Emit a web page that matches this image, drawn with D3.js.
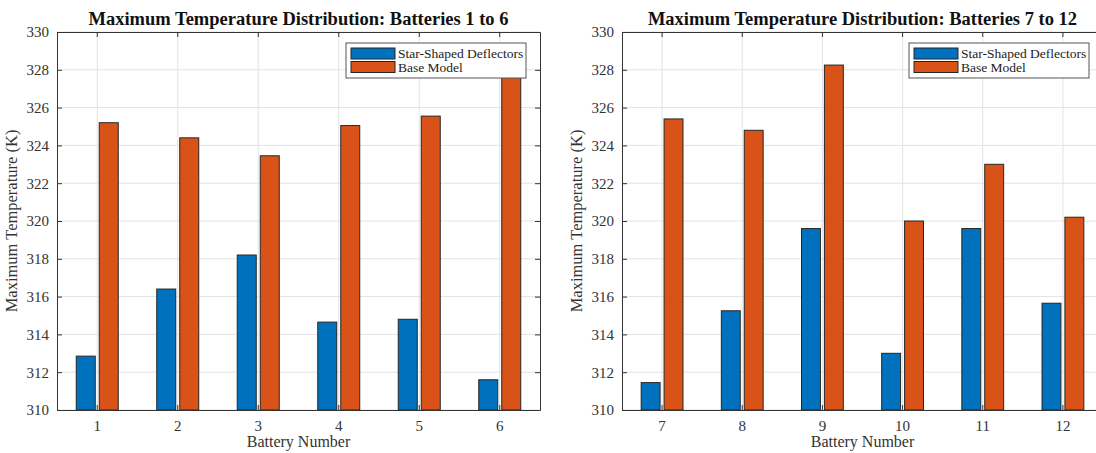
<!DOCTYPE html>
<html>
<head>
<meta charset="utf-8">
<script src="https://cdn.jsdelivr.net/npm/d3@7"></script>
<style>
  body { margin: 0; background: #fff; }
  svg { display: block; font-family: "Liberation Serif", "DejaVu Serif", serif; }
  .grid line { stroke: #e3e3e3; stroke-width: 1; }
  .axis path, .axis line { stroke: #333; }
  .axis text { fill: #333; font-size: 15px; font-family: "Liberation Serif", serif; }
</style>
</head>
<body>
<svg id="chart" width="1096" height="453"></svg>
<script>
var series = ["Star-Shaped Deflectors", "Base Model"];
var colors = ["#0072BD", "#D95319"];

var batteriesA = ["1", "2", "3", "4", "5", "6"];
var starA = [312.85, 316.4, 318.2, 314.65, 314.8, 311.6];
var baseA = [325.2, 324.4, 323.45, 325.05, 325.55, 329.0];

var batteriesB = ["7", "8", "9", "10", "11", "12"];
var starB = [311.45, 315.25, 319.6, 313.0, 319.6, 315.65];
var baseB = [325.4, 324.8, 328.25, 320.0, 323.0, 320.2];

var yTicks = [310, 312, 314, 316, 318, 320, 322, 324, 326, 328, 330];

var svg = d3.select("#chart");

function panel(x0, x1, cats, star, base, title) {
  var top = 32, bottom = 410;
  var g = svg.append("g");

  var x = d3.scaleBand().domain(cats).range([x0, x1]).padding(0);
  var xs = d3.scaleBand().domain(series).range([0, x.bandwidth()])
      .paddingInner(0.174).paddingOuter(0.837);
  var y = d3.scaleLinear().domain([310, 330]).range([bottom, top]);

  var clipId = "clip" + cats[0];
  g.append("clipPath").attr("id", clipId)
    .append("rect").attr("x", x0).attr("y", top).attr("width", x1 - x0).attr("height", bottom - top);

  // grid
  var grid = g.append("g").attr("class", "grid");
  grid.selectAll(".h").data(yTicks).enter().append("line")
    .attr("x1", x0).attr("x2", x1)
    .attr("y1", d => y(d)).attr("y2", d => y(d));
  grid.selectAll(".v").data(cats).enter().append("line")
    .attr("x1", d => x(d) + x.bandwidth() / 2).attr("x2", d => x(d) + x.bandwidth() / 2)
    .attr("y1", top).attr("y2", bottom);

  var rows = cats.map((c, i) => ({cat: c, vals: [star[i], base[i]]}));

  g.append("g").attr("clip-path", "url(#" + clipId + ")")
    .selectAll("g").data(rows).enter().append("g")
    .attr("transform", d => `translate(${x(d.cat)},0)`)
    .selectAll("rect").data(d => d.vals.map((v, j) => ({s: series[j], v: v, j: j})))
    .enter().append("rect")
    .attr("x", d => xs(d.s))
    .attr("y", d => y(d.v))
    .attr("width", xs.bandwidth())
    .attr("height", d => y(310) - y(d.v))
    .attr("fill", d => colors[d.j])
    .attr("stroke", "#262626")
    .attr("stroke-width", 1);

  // axes (box with inward ticks)
  g.append("g").attr("class", "axis")
    .attr("transform", `translate(0,${bottom})`)
    .call(d3.axisBottom(x).tickSizeInner(-5).tickSizeOuter(0).tickPadding(10))
    .selectAll("text").attr("dy", "0.71em");
  g.append("g").attr("class", "axis")
    .attr("transform", `translate(0,${top})`)
    .call(d3.axisTop(x).tickSizeInner(-5).tickSizeOuter(0).tickFormat(""));
  g.append("g").attr("class", "axis")
    .attr("transform", `translate(${x0},0)`)
    .call(d3.axisLeft(y).tickValues(yTicks).tickSizeInner(-5).tickSizeOuter(0).tickPadding(8));
  g.append("g").attr("class", "axis")
    .attr("transform", `translate(${x1},0)`)
    .call(d3.axisRight(y).tickValues(yTicks).tickSizeInner(-5).tickSizeOuter(0).tickFormat(""));

  g.append("text")
    .attr("x", (x0 + x1) / 2)
    .attr("y", 25)
    .attr("text-anchor", "middle")
    .style("font-weight", "bold").style("font-size", "18.5px").attr("fill", "#111")
    .text(title);

  g.append("text")
    .attr("x", (x0 + x1) / 2).attr("y", 447)
    .attr("text-anchor", "middle").style("font-size", "16px").attr("fill", "#333")
    .text("Battery Number");

  g.append("text")
    .attr("transform", `translate(${x0 - 40},${(top + bottom) / 2}) rotate(-90)`)
    .attr("text-anchor", "middle").style("font-size", "16.5px").attr("fill", "#333")
    .text("Maximum Temperature (K)");

  // legend
  var lw = 180, lx = x1 - 14 - lw, ly = 43;
  var leg = g.append("g");
  leg.append("rect").attr("x", lx).attr("y", ly).attr("width", lw).attr("height", 35)
    .attr("fill", "#fff").attr("stroke", "#555").attr("stroke-width", 1);
  leg.selectAll(".sw").data(series).enter().append("rect")
    .attr("x", lx + 5).attr("y", (d, i) => ly + 5 + i * 13.5)
    .attr("width", 44).attr("height", 11)
    .attr("fill", (d, i) => colors[i]).attr("stroke", "#262626");
  leg.selectAll(".lt").data(series).enter().append("text")
    .attr("x", lx + 52).attr("y", (d, i) => ly + 15 + i * 13.5)
    .style("font-size", "13.5px").attr("fill", "#222")
    .text(d => d);
}

panel(57, 540, batteriesA, starA, baseA, "Maximum Temperature Distribution: Batteries 1 to 6");
panel(622, 1103, batteriesB, starB, baseB, "Maximum Temperature Distribution: Batteries 7 to 12");
</script>
</body>
</html>
